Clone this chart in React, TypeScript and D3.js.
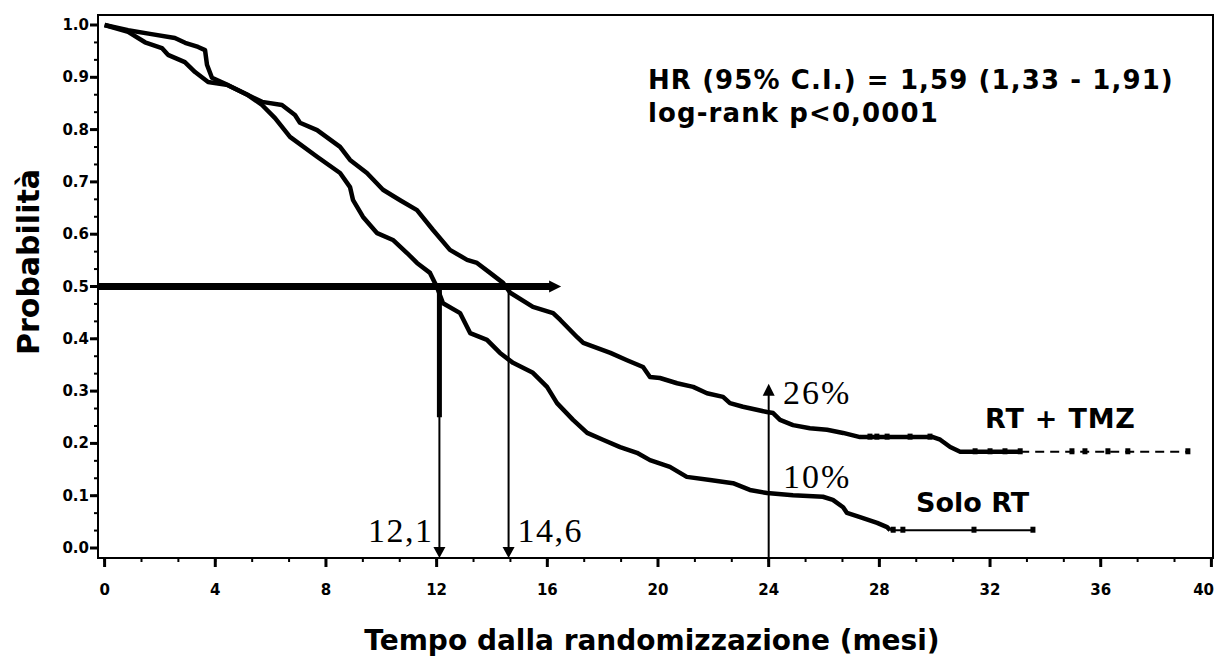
import React from 'react';
import * as d3 from 'd3';

const W = 1216;
const H = 662;

// axis ticks
const xTicks = [0, 4, 8, 12, 16, 20, 24, 28, 32, 36, 40];
const yTicks = [0, 0.1, 0.2, 0.3, 0.4, 0.5, 0.6, 0.7, 0.8, 0.9, 1.0];
const yTickLabels = ['0.0', '0.1', '0.2', '0.3', '0.4', '0.5', '0.6', '0.7', '0.8', '0.9', '1.0'];

// RT + TMZ
const tmzMonths = [0, 0.85, 1.64, 2.54, 2.91, 3.38, 3.63, 3.7, 3.88, 4.46, 5.18, 5.69, 6.41, 6.88, 7.06, 7.68, 8.51, 8.87, 9.48, 10.06, 10.68, 11.29, 11.87, 12.48, 13.1, 13.46, 13.93, 14.4, 14.66, 15.48, 16.21, 16.47, 17.08, 17.3, 18.28, 18.88, 19.46, 19.71, 20.07, 20.69, 21.27, 21.77, 22.35, 22.6, 23.07, 23.94, 24.16, 24.41, 24.88, 25.49, 26.11, 26.69, 27.3, 29.94, 30.2, 30.56, 30.92, 33.09, 39.2];
const tmzSurv = [1.0, 0.99, 0.983, 0.975, 0.966, 0.958, 0.952, 0.924, 0.899, 0.885, 0.866, 0.853, 0.847, 0.828, 0.813, 0.799, 0.767, 0.742, 0.717, 0.685, 0.665, 0.646, 0.608, 0.57, 0.551, 0.545, 0.526, 0.507, 0.488, 0.461, 0.449, 0.436, 0.403, 0.392, 0.373, 0.359, 0.346, 0.327, 0.325, 0.315, 0.308, 0.296, 0.289, 0.277, 0.27, 0.26, 0.258, 0.245, 0.235, 0.229, 0.226, 0.22, 0.212, 0.212, 0.207, 0.193, 0.184, 0.184, 0.184];
const tmzCensor = [27.66, 27.91, 28.28, 29.11, 29.83, 31.46, 32.0, 32.54, 33.09, 34.96, 35.43, 36.26, 36.98, 39.15];
const tmzDashFrom = 33.09;

// Solo RT
const rtMonths = [0, 0.85, 1.46, 2.07, 2.29, 2.9, 3.27, 3.74, 4.46, 5.18, 5.69, 6.16, 6.7, 7.68, 8.51, 8.87, 8.98, 9.34, 9.85, 10.42, 10.93, 11.29, 11.76, 12.01, 12.23, 12.85, 13.21, 13.82, 14.29, 14.76, 15.48, 15.99, 16.35, 16.93, 17.44, 18.01, 18.63, 19.24, 19.71, 20.43, 21.04, 21.88, 22.71, 23.32, 23.94, 24.88, 25.96, 26.32, 26.69, 26.83, 27.3, 27.92, 28.28, 28.39, 33.55];
const rtSurv = [1.0, 0.987, 0.967, 0.956, 0.943, 0.929, 0.91, 0.891, 0.885, 0.866, 0.847, 0.822, 0.786, 0.748, 0.717, 0.69, 0.665, 0.633, 0.602, 0.589, 0.564, 0.545, 0.526, 0.499, 0.468, 0.449, 0.411, 0.398, 0.373, 0.354, 0.335, 0.308, 0.277, 0.245, 0.22, 0.207, 0.193, 0.182, 0.168, 0.155, 0.136, 0.13, 0.124, 0.111, 0.105, 0.101, 0.098, 0.092, 0.078, 0.067, 0.059, 0.048, 0.04, 0.034, 0.034];
const rtCensor = [28.5, 28.85, 31.42, 33.55];
const rtThinFrom = 28.39;

// annotations
const medianLevel = 0.5;
const medianArrowEnd = 16.5;
const medianMonths = [12.1, 14.6];
const medianLabels = ['12,1', '14,6'];
const landmarkMonth = 24;
const landmarkTop = 0.31;
const landmarkLabels = ['26%', '10%'];
const seriesLabels = ['RT + TMZ', 'Solo RT'];
const statLines = ['HR (95% C.I.) = 1,59 (1,33 - 1,91)', 'log-rank p<0,0001'];

const sans = 'DejaVu Sans, Verdana, sans-serif';
const serif = 'Liberation Serif, Times New Roman, serif';

export default function App() {
  const x = d3.scaleLinear().domain([0, 40]).range([104.6, 1211.4]);
  const y = d3.scaleLinear().domain([0, 1]).range([548, 25]);
  const left = 98, right = 1213, top = 15, bottom = 558;

  const line = d3
    .line<[number, number]>()
    .x((d) => x(d[0]))
    .y((d) => y(d[1]));

  const tmz: [number, number][] = tmzMonths.map((m, i) => [m, tmzSurv[i]]);
  const rt: [number, number][] = rtMonths.map((m, i) => [m, rtSurv[i]]);

  const valueAt = (pts: [number, number][], m: number) => {
    for (let i = 1; i < pts.length; i++) {
      if (m <= pts[i][0]) {
        const [m0, s0] = pts[i - 1];
        const [m1, s1] = pts[i];
        return s0 + ((s1 - s0) * (m - m0)) / (m1 - m0 || 1);
      }
    }
    return pts[pts.length - 1][1];
  };

  const tmzHead = tmz.filter((d) => d[0] <= tmzDashFrom);
  const tmzTail = tmz.filter((d) => d[0] >= tmzDashFrom);
  const rtHead = rt.filter((d) => d[0] <= rtThinFrom);
  const rtTail = rt.filter((d) => d[0] >= rtThinFrom);

  const minorX = d3.range(0, 40.01, 4 / 3);
  const minorY = d3.range(0, 1.001, 1 / 30);

  const yMed = y(medianLevel);
  const xEnd = x(medianArrowEnd);
  const xl = x(landmarkMonth);
  const yl = y(landmarkTop);

  return (
    <svg
      width={W}
      height={H}
      style={{ position: 'absolute', left: 0, top: 0, background: '#fff' }}
    >
      <rect x={0} y={0} width={W} height={H} fill='#fff' />
      <rect x={left} y={top} width={right - left} height={bottom - top} fill='none' stroke='#000' strokeWidth={2} />

      {/* x axis ticks */}
      {minorX.map((t, i) => (
        <line key={'mx' + i} x1={x(t)} x2={x(t)} y1={bottom} y2={bottom + 4} stroke='#000' strokeWidth={2} />
      ))}
      {xTicks.map((t, i) => {
        const last = i === xTicks.length - 1;
        return (
          <g key={'x' + t}>
            <line x1={x(t)} x2={x(t)} y1={bottom} y2={bottom + 9} stroke='#000' strokeWidth={3} />
            <text
              x={last ? W - 2 : x(t)}
              y={595}
              textAnchor={last ? 'end' : 'middle'}
              fontFamily={sans}
              fontWeight='bold'
              fontSize={15}
            >
              {t}
            </text>
          </g>
        );
      })}

      {/* y axis ticks */}
      {minorY.map((t, i) => (
        <line key={'my' + i} x1={left - 4} x2={left} y1={y(t)} y2={y(t)} stroke='#000' strokeWidth={2} />
      ))}
      {yTicks.map((t, i) => (
        <g key={'y' + i}>
          <line x1={left - 8} x2={left} y1={y(t)} y2={y(t)} stroke='#000' strokeWidth={3} />
          <text x={89} y={y(t) + 5} textAnchor='end' fontFamily={sans} fontWeight='bold' fontSize={15}>
            {yTickLabels[i]}
          </text>
        </g>
      ))}

      {/* median line */}
      <line x1={left} x2={xEnd - 10} y1={yMed} y2={yMed} stroke='#000' strokeWidth={7} />
      <path d={`M${xEnd - 12},${yMed - 6} L${xEnd},${yMed} L${xEnd - 12},${yMed + 6} Z`} fill='#000' />

      {medianMonths.map((m, i) => {
        const xm = x(m);
        return (
          <g key={'med' + i}>
            {i === 0 && (
              <line x1={xm} x2={xm} y1={yMed} y2={y(0.25)} stroke='#000' strokeWidth={5} />
            )}
            <line x1={xm} x2={xm} y1={yMed} y2={bottom - 10} stroke='#000' strokeWidth={2} />
            <path d={`M${xm - 6},${bottom - 11} L${xm + 6},${bottom - 11} L${xm},${bottom} Z`} fill='#000' />
            <text
              x={i === 0 ? xm - 6 : xm + 9}
              y={542}
              textAnchor={i === 0 ? 'end' : 'start'}
              fontFamily={serif}
              fontSize={34}
              letterSpacing={1.5}
            >
              {medianLabels[i]}
            </text>
          </g>
        );
      })}

      {/* 24 month landmark */}
      <line x1={xl} x2={xl} y1={bottom} y2={yl + 8} stroke='#000' strokeWidth={2} />
      <path d={`M${xl - 6},${yl + 10} L${xl + 6},${yl + 10} L${xl},${yl - 2} Z`} fill='#000' />
      <text x={783} y={404} fontFamily={serif} fontSize={34} letterSpacing={2}>{landmarkLabels[0]}</text>
      <text x={783} y={488} fontFamily={serif} fontSize={34} letterSpacing={2}>{landmarkLabels[1]}</text>

      {/* curves */}
      <path d={line(tmzHead) ?? ''} fill='none' stroke='#000' strokeWidth={4.5} strokeLinejoin='round' />
      <path d={line(tmzTail) ?? ''} fill='none' stroke='#000' strokeWidth={2} strokeDasharray='9,6' />
      <path d={line(rtHead) ?? ''} fill='none' stroke='#000' strokeWidth={4.5} strokeLinejoin='round' />
      <path d={line(rtTail) ?? ''} fill='none' stroke='#000' strokeWidth={2} />

      {tmzCensor.map((c, i) => (
        <rect key={'tc' + i} x={x(c) - 2.5} y={y(valueAt(tmz, c)) - 3.5} width={5} height={6} fill='#000' />
      ))}
      {rtCensor.map((c, i) => (
        <rect key={'rc' + i} x={x(c) - 2.5} y={y(valueAt(rt, c)) - 3.5} width={5} height={6} fill='#000' />
      ))}

      {/* labels */}
      <text x={985} y={428} fontFamily={sans} fontWeight='bold' fontSize={27} letterSpacing={0.8}>{seriesLabels[0]}</text>
      <text x={916} y={512} fontFamily={sans} fontWeight='bold' fontSize={27}>{seriesLabels[1]}</text>
      <text x={648} y={89} fontFamily={sans} fontWeight='bold' fontSize={26} letterSpacing={1.1}>{statLines[0]}</text>
      <text x={648} y={122} fontFamily={sans} fontWeight='bold' fontSize={26} letterSpacing={1.1}>{statLines[1]}</text>

      <text
        transform='translate(39,262) rotate(-90)'
        textAnchor='middle'
        fontFamily={sans}
        fontWeight='bold'
        fontSize={30}
      >
        Probabilità
      </text>
      <text x={652} y={650} textAnchor='middle' fontFamily={sans} fontWeight='bold' fontSize={28}>
        Tempo dalla randomizzazione (mesi)
      </text>
    </svg>
  );
}
